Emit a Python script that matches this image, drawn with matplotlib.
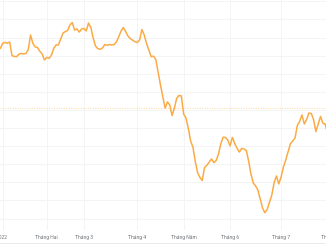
import matplotlib
matplotlib.use('Agg')
import matplotlib.pyplot as plt
from matplotlib.lines import Line2D
import numpy as np

# trading sessions since the start of 2022 (-1 = last close of 2021)
sessions = np.arange(-1, 142)
price = [29.40, 29.68, 29.73, 29.68, 29.75, 29.01, 28.95, 28.94, 29.08, 29.12,
         29.09, 29.12, 29.31, 30.14, 29.68, 29.48, 29.45, 29.24, 29.09, 28.76,
         28.90, 28.85, 29.03, 29.39, 29.59, 29.59, 29.92, 30.24, 30.33, 30.39,
         30.69, 30.83, 30.41, 30.47, 30.30, 30.47, 30.50, 30.36, 30.80, 30.55,
         29.97, 29.53, 29.38, 29.35, 29.42, 29.61, 29.57, 29.61, 29.59, 29.61,
         29.75, 30.03, 30.36, 30.55, 30.33, 30.08, 29.94, 29.85, 29.77, 29.72,
         29.86, 30.44, 30.14, 29.67, 29.31, 28.94, 28.97, 28.78, 28.07, 27.38,
         26.73, 26.10, 26.44, 26.27, 25.69, 26.10, 26.64, 26.80, 26.77, 25.77,
         25.55, 24.98, 24.28, 23.94, 23.15, 22.54, 22.27, 22.10, 22.82, 22.94,
         23.11, 23.29, 23.09, 23.20, 23.56, 24.12, 24.49, 24.48, 24.34, 24.01,
         24.48, 24.15, 23.88, 23.67, 23.87, 23.84, 23.76, 23.18, 22.46, 21.96,
         21.80, 21.57, 21.08, 20.58, 20.32, 20.50, 20.91, 21.30, 21.99, 22.35,
         21.91, 22.29, 22.85, 23.23, 23.67, 24.13, 24.28, 24.45, 25.14, 25.37,
         25.72, 25.22, 25.47, 25.83, 25.80, 25.47, 24.80, 25.21, 25.64, 25.26,
         25.22, 24.71, 24.17]
prev_close = 26.10

month_pos = [0, 19, 35, 58, 78, 98, 120, 141]
month_labels = ['2022', 'Tháng Hai', 'Tháng 3', 'Tháng 4', 'Tháng Năm',
                'Tháng 6', 'Tháng 7', 'Tháng 8']
grid_levels = np.arange(20, 33)

fig = plt.figure(figsize=(3.26, 2.45), dpi=100)
# axes run a little past the right edge, like the cropped original
ax = fig.add_axes([0, 15/245, 340/326, 230/245])

ax.plot(sessions, price, color='#fbab45', lw=1.1, solid_joinstyle='round', zorder=3)
ax.axhline(prev_close, color='#fdd4a0', lw=0.7, ls=(0, (1, 1.5)), zorder=2)

ax.set_xlim(-2.7/2.32, (340 - 2.7)/2.32)
ax.set_ylim(19.365, 32.072)
ax.set_yticks(grid_levels)
ax.set_xticks(month_pos)
ax.set_xticklabels(month_labels, fontsize=3.6, color='#70757a', family='Roboto')
ax.tick_params(axis='x', length=0, pad=3.5)
ax.tick_params(axis='y', length=0, labelleft=False)
ax.grid(True, color='#f4f4f4', lw=0.7)
ax.set_axisbelow(True)
for sp in ax.spines.values():
    sp.set_visible(False)

fig.add_artist(Line2D([0, 1], [2/245, 2/245], color='#ebebeb', lw=0.7))

plt.savefig('out.png', dpi=100)
